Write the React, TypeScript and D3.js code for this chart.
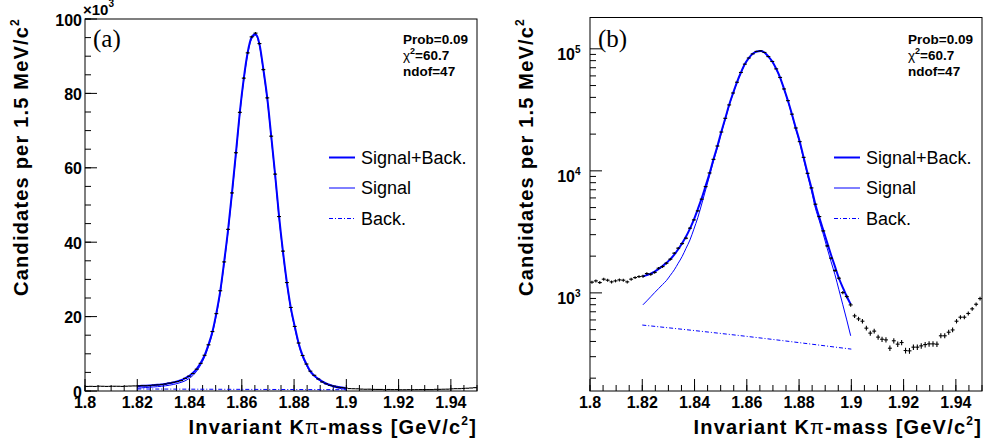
import React from "react";
import * as d3 from "d3";

// ---------- data ----------
const massLow = 1.8;
const massHigh = 1.95;
const binWidth = 0.0015;

// candidates per 1.5 MeV bin, 100 bins from 1.800 to 1.950 GeV
const counts = [
  1224, 1254, 1215, 1295, 1270, 1231, 1254, 1278, 1270, 1231,
  1295, 1335, 1360, 1370, 1440, 1420, 1470, 1593, 1643, 1750,
  1888, 2115, 2325, 2535, 2806, 3390, 3965, 4700, 5860, 7430,
  9610, 12420, 15980, 20800, 26950, 34700, 43450, 53250, 64050, 74900,
  84100, 90900, 95200, 96200, 93400, 86400, 78800, 68500, 58300, 46900,
  37600, 29150, 22450, 17350, 12900, 9540, 7250, 5330, 4220, 3220,
  2427, 1925, 1524, 1319, 1005, 933, 797, 648, 612, 586,
  514, 468, 486, 434, 417, 412, 352, 405, 380, 392,
  337, 335, 359, 359, 368, 377, 382, 382, 380, 445,
  445, 476, 497, 586, 632, 632, 678, 740, 807, 898,
];

// fit curves, sampled at the centres of bins 13..66 (1.82 - 1.90 GeV)
const fitFirstBin = 13;
const fitTotal = [
  1361, 1397, 1440, 1495, 1574, 1656, 1762, 1889, 2060, 2280,
  2555, 2895, 3366, 3990, 4850, 5970, 7530, 9570, 12470, 15930,
  20870, 26860, 34770, 43350, 53330, 63950, 75000, 83990, 91000, 95070,
  96000, 93300, 86500, 78700, 68600, 58200, 47000, 37500, 29200, 22400,
  17400, 12850, 9570, 7220, 5300, 4140, 3280, 2580, 2045, 1643,
  1318, 1106, 934, 807,
];
const fitSignal = [
  798, 860, 930, 1006, 1085, 1170, 1262, 1395, 1544, 1750,
  1985, 2320, 2715, 3330, 4140, 5350, 6980, 9120, 12000, 15480,
  20420, 26400, 34300, 42900, 52900, 63500, 74550, 83550, 90560, 94630,
  95560, 92870, 86080, 78280, 68200, 57800, 46600, 37100, 28800, 22000,
  17000, 12460, 9190, 6850, 4950, 3900, 3030, 2325, 1800, 1406,
  1060, 798, 600, 445,
];
const bgMass = [1.82, 1.86, 1.9];
const bgValues = [545, 440, 346];

const xTickValues = [1.8, 1.82, 1.84, 1.86, 1.88, 1.9, 1.92, 1.94];
const xTickLabels = ["1.8", "1.82", "1.84", "1.86", "1.88", "1.9", "1.92", "1.94"];
const linTickValues = [0, 20000, 40000, 60000, 80000, 100000];
const linTickLabels = ["0", "20", "40", "60", "80", "100"];
const logTickValues = [1e3, 1e4, 1e5];
const logTickExponents = ["3", "4", "5"];
const statLines = ["Prob=0.09", "=60.7", "ndof=47"];
const legendLabels = ["Signal+Back.", "Signal", "Back."];

const BLUE = "#0000ff";
const SANS = "'Liberation Sans', Arial, Helvetica, sans-serif";
const SERIF = "'Liberation Serif', 'Times New Roman', serif";

type PanelProps = {
  left: number;
  right: number;
  top: number;
  bottom: number;
  log: boolean;
  tag: string;
  titleX: number;
};

function Panel({ left, right, top, bottom, log, tag, titleX }: PanelProps) {
  const x = d3.scaleLinear().domain([massLow, massHigh]).range([left, right]);
  const y: any = log
    ? d3.scaleLog().domain([157, 180600]).range([bottom, top])
    : d3.scaleLinear().domain([0, 100000]).range([bottom, top]);

  const minorX = d3.range(0, 31).map((i) => massLow + i * 0.005);
  let minorY: number[] = [];
  if (log) {
    [100, 1000, 10000, 100000].forEach((dec) => {
      for (let k = 2; k <= 9; k++) {
        const v = dec * k;
        if (v > 157 && v < 180600) minorY.push(v);
      }
    });
  } else {
    minorY = d3.range(0, 21).map((i) => i * 5000);
  }

  const center = (i: number) => massLow + binWidth * (i + 0.5);

  const line = d3
    .line<number>()
    .x((_, i) => x(center(fitFirstBin + i)))
    .y((d) => y(d))
    .curve(d3.curveMonotoneX);
  const bgLine = d3
    .line<number>()
    .x((_, i) => x(bgMass[i]))
    .y((d) => y(d))
    .curve(d3.curveMonotoneX);

  const statX = right - 74;
  const legY = [157.5, 188, 218.5];
  const legX0 = right - 148;
  const legX1 = right - 122;
  const legTX = right - 116;

  return (
    <g>
      {/* frame */}
      <rect x={left} y={top} width={right - left} height={bottom - top} fill="white" stroke="black" strokeWidth={1} />

      {/* x ticks */}
      {minorX.map((v, i) => (
        <line key={"mx" + i} x1={x(v)} x2={x(v)} y1={bottom} y2={bottom - 6} stroke="black" strokeWidth={1} />
      ))}
      {xTickValues.map((v, i) => (
        <g key={"xt" + i}>
          <line x1={x(v)} x2={x(v)} y1={bottom} y2={bottom - 12} stroke="black" strokeWidth={1} />
          <text x={x(v)} y={408} textAnchor="middle" fontFamily={SANS} fontWeight="bold" fontSize={16}>
            {xTickLabels[i]}
          </text>
        </g>
      ))}

      {/* y ticks */}
      {minorY.map((v, i) => (
        <line key={"my" + i} x1={left} x2={left + 6} y1={y(v)} y2={y(v)} stroke="black" strokeWidth={1} />
      ))}
      {!log &&
        linTickValues.map((v, i) => (
          <g key={"yt" + i}>
            <line x1={left} x2={left + 12} y1={y(v)} y2={y(v)} stroke="black" strokeWidth={1} />
            <text x={left - 3} y={y(v) + 6.5} textAnchor="end" fontFamily={SANS} fontWeight="bold" fontSize={16}>
              {linTickLabels[i]}
            </text>
          </g>
        ))}
      {log &&
        logTickValues.map((v, i) => (
          <g key={"yl" + i}>
            <line x1={left} x2={left + 12} y1={y(v)} y2={y(v)} stroke="black" strokeWidth={1} />
            <text x={left - 15} y={y(v) + 11} textAnchor="end" fontFamily={SANS} fontWeight="bold" fontSize={16}>
              10
            </text>
            <text x={left - 15} y={y(v) + 4} textAnchor="start" fontFamily={SANS} fontWeight="bold" fontSize={10}>
              {logTickExponents[i]}
            </text>
          </g>
        ))}
      {!log && (
        <text x={left - 2} y={15} fontFamily={SANS} fontWeight="bold" fontSize={15}>
          ×10
          <tspan fontSize={10} dy={-8}>3</tspan>
        </text>
      )}

      {/* fit curves */}
      <path d={bgLine(bgValues) || ""} fill="none" stroke={BLUE} strokeWidth={1} strokeDasharray="4,2,1,2" />
      <path d={line(fitSignal) || ""} fill="none" stroke={BLUE} strokeWidth={1} />
      <path d={line(fitTotal) || ""} fill="none" stroke={BLUE} strokeWidth={2} />

      {/* data points */}
      {counts.map((n, i) => {
        const e = Math.sqrt(n);
        const yc = y(n);
        return (
          <g key={"d" + i} stroke="black" strokeWidth={1.1}>
            <line x1={x(massLow + i * binWidth)} x2={x(massLow + (i + 1) * binWidth)} y1={yc} y2={yc} />
            <line x1={x(center(i))} x2={x(center(i))} y1={y(n - e)} y2={y(n + e)} />
          </g>
        );
      })}

      {/* stats */}
      <g fontFamily={SANS} fontWeight="bold" fontSize={13.5}>
        <text x={statX} y={43.5}>{statLines[0]}</text>
        <text x={statX} y={59.5}>
          <tspan fontWeight="normal">χ</tspan>
          <tspan fontSize={9} dy={-6}>2</tspan>
          <tspan dy={6}>{statLines[1]}</tspan>
        </text>
        <text x={statX} y={76}>{statLines[2]}</text>
      </g>

      {/* legend */}
      <line x1={legX0} x2={legX1} y1={legY[0]} y2={legY[0]} stroke={BLUE} strokeWidth={2} />
      <line x1={legX0} x2={legX1} y1={legY[1]} y2={legY[1]} stroke={BLUE} strokeWidth={1} />
      <line x1={legX0} x2={legX1} y1={legY[2]} y2={legY[2]} stroke={BLUE} strokeWidth={1} strokeDasharray="4,2,1,2" />
      {legendLabels.map((t, i) => (
        <text key={"lg" + i} x={legTX} y={legY[i] + 6.3} fontFamily={SANS} fontSize={18}>
          {t}
        </text>
      ))}

      {/* panel tag */}
      <text x={left + 8} y={47} fontFamily={SERIF} fontSize={25}>
        {tag}
      </text>

      {/* axis titles */}
      <text x={right} y={434} textAnchor="end" fontFamily={SANS} fontWeight="bold" fontSize={20} letterSpacing={1.2}>
        Invariant K<tspan fontWeight="normal">π</tspan>-mass [GeV/c<tspan fontSize={12} dy={-9}>2</tspan>
        <tspan dy={9}>]</tspan>
      </text>
      <text
        transform={`translate(${titleX},18) rotate(-90)`}
        textAnchor="end"
        fontFamily={SANS}
        fontWeight="bold"
        fontSize={20}
        letterSpacing={1.2}
      >
        Candidates per 1.5 MeV/c<tspan fontSize={12} dy={-9}>2</tspan>
      </text>
    </g>
  );
}

export default function App() {
  return (
    <svg
      width={985}
      height={446}
      viewBox="0 0 985 446"
      style={{ position: "absolute", left: 0, top: 0, background: "white" }}
    >
      <rect x={0} y={0} width={985} height={446} fill="white" />
      <Panel left={85} right={477} top={19} bottom={391} log={false} tag="(a)" titleX={28} />
      <Panel left={590} right={982} top={17.5} bottom={391} log={true} tag="(b)" titleX={533} />
    </svg>
  );
}
